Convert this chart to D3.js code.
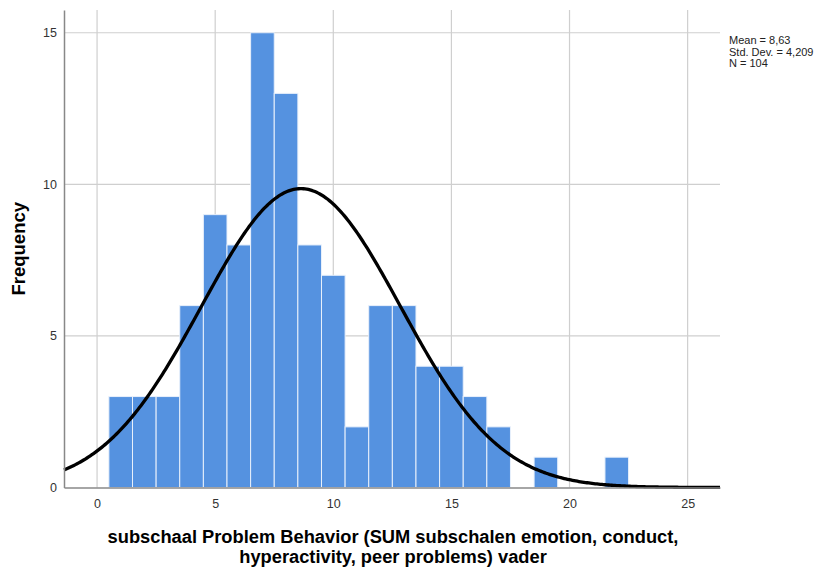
<!DOCTYPE html>
<html>
<head>
<meta charset="utf-8">
<script src="https://cdn.jsdelivr.net/npm/d3@7.9.0/dist/d3.min.js"></script>
<style>
  body { margin: 0; background: #fff; }
  text { font-family: "Liberation Sans", Arial, sans-serif; }
</style>
</head>
<body>
<script>
// ** Data: bin centers and frequencies **
const binCenters = [1, 2, 3, 4, 5, 6, 7, 8, 9, 10, 11, 12, 13, 14, 15, 16, 17, 18, 19, 20, 21, 22];
const frequencies = [3, 3, 3, 6, 9, 8, 15, 13, 8, 7, 2, 6, 6, 4, 4, 3, 2, 0, 1, 0, 0, 1];
const xTicks = [0, 5, 10, 15, 20, 25];
const yTicks = [0, 5, 10, 15];
const statLines = ["Mean = 8,63", "Std. Dev. = 4,209", "N = 104"];
const mean = 8.63, sd = 4.209, n = 104, binWidth = 1;

// ** SVG Setup **
const width = 826, height = 568;
const margin = { left: 64, right: 106, top: 10, bottom: 80 };

const svg = d3.select("body").append("svg")
    .attr("width", width)
    .attr("height", height);

const x = d3.scaleLinear()
    .domain([-1.4, 26.37])
    .range([margin.left, width - margin.right]);

const y = d3.scaleLinear()
    .domain([0, 15.75])
    .range([height - margin.bottom - 0.5, margin.top]);

// ** Gridlines **
svg.append("g")
    .selectAll("line")
    .data(xTicks)
    .join("line")
    .attr("x1", d => x(d)).attr("x2", d => x(d))
    .attr("y1", y.range()[1]).attr("y2", y.range()[0])
    .attr("stroke", "#cfcfcf")
    .attr("stroke-width", 1.2);

svg.append("g")
    .selectAll("line")
    .data(yTicks.filter(d => d > 0))
    .join("line")
    .attr("x1", x.range()[0]).attr("x2", x.range()[1])
    .attr("y1", d => y(d)).attr("y2", d => y(d))
    .attr("stroke", "#cfcfcf")
    .attr("stroke-width", 1.2);

// ** Bars **
svg.append("g")
    .selectAll("rect")
    .data(binCenters.map((c, i) => ({ c, f: frequencies[i] })).filter(d => d.f > 0))
    .join("rect")
    .attr("x", d => x(d.c - binWidth / 2))
    .attr("width", d => x(d.c + binWidth / 2) - x(d.c - binWidth / 2))
    .attr("y", d => y(d.f))
    .attr("height", d => y(0) - y(d.f))
    .attr("fill", "#5592e0")
    .attr("stroke", "#e8f0fb")
    .attr("stroke-width", 1);

// ** Normal curve from the reported statistics **
const curveXs = d3.range(0, 401).map(i => x.domain()[0] + (x.domain()[1] - x.domain()[0]) * i / 400);
const normal = v => n * binWidth * Math.exp(-0.5 * ((v - mean) / sd) ** 2) / (sd * Math.sqrt(2 * Math.PI));

svg.append("path")
    .datum(curveXs)
    .attr("fill", "none")
    .attr("stroke", "#000")
    .attr("stroke-width", 3.3)
    .attr("d", d3.line().x(d => x(d)).y(d => y(normal(d))));

// ** Axes **
const xAxis = svg.append("g")
    .attr("transform", `translate(0,${y(0)})`)
    .call(d3.axisBottom(x).tickValues(xTicks).tickSize(0).tickPadding(12));
const yAxis = svg.append("g")
    .attr("transform", `translate(${x.range()[0]},0)`)
    .call(d3.axisLeft(y).tickValues(yTicks).tickSize(0).tickPadding(7));

[xAxis, yAxis].forEach(a => {
    a.select(".domain").attr("stroke", "#888").attr("stroke-width", 1.5);
    a.selectAll("text").attr("fill", "#333").style("font-size", "12.5px")
        .style("font-family", "'Liberation Sans', Arial, sans-serif");
});
xAxis.raise();

// ** Axis titles **
svg.append("text")
    .attr("transform", `translate(25,${(y(0) + y.range()[1]) / 2}) rotate(-90)`)
    .attr("text-anchor", "middle")
    .style("font-size", "18.5px")
    .style("font-weight", "bold")
    .text("Frequency");

svg.append("text")
    .attr("x", 393).attr("y", 543)
    .attr("text-anchor", "middle")
    .style("font-size", "18.3px")
    .style("font-weight", "bold")
    .text("subschaal Problem Behavior (SUM subschalen emotion, conduct,");

svg.append("text")
    .attr("x", 393).attr("y", 563)
    .attr("text-anchor", "middle")
    .style("font-size", "18.3px")
    .style("font-weight", "bold")
    .text("hyperactivity, peer problems) vader");

// ** Stats box **
svg.append("g")
    .selectAll("text")
    .data(statLines)
    .join("text")
    .attr("x", 729)
    .attr("y", (d, i) => 44 + i * 11.5)
    .style("font-size", "11px")
    .attr("fill", "#222")
    .text(d => d);
</script>
</body>
</html>
